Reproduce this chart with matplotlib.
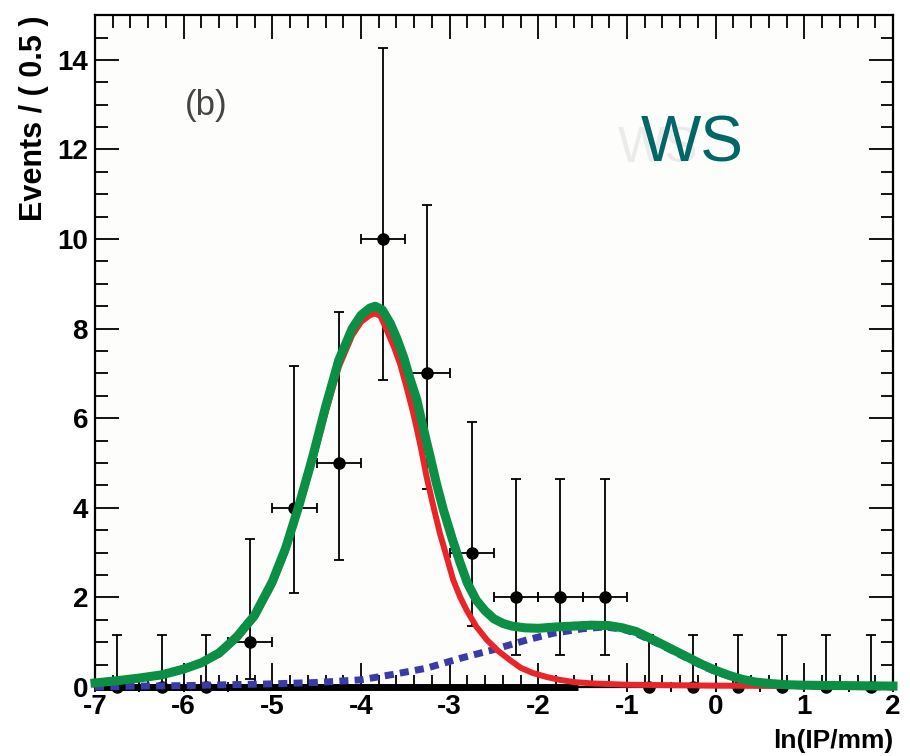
import numpy as np
import matplotlib
matplotlib.use("Agg")
import matplotlib.pyplot as plt
from matplotlib.ticker import MultipleLocator

plt.rcParams["axes.unicode_minus"] = False

## --- Data ---
# binned counts, bin width 0.5
bin_x = [-6.75, -6.25, -5.75, -5.25, -4.75, -4.25, -3.75, -3.25, -2.75,
         -2.25, -1.75, -1.25, -0.75, -0.25, 0.25, 0.75, 1.25, 1.75]
counts = [0, 0, 0, 1, 4, 5, 10, 7, 3, 2, 2, 2, 0, 0, 0, 0, 0, 0]
err_lo = [0, 0, 0, 0.83, 1.91, 2.16, 3.14, 2.58, 1.63, 1.29, 1.29, 1.29, 0, 0, 0, 0, 0, 0]
err_hi = [1.15, 1.15, 1.15, 2.30, 3.16, 3.38, 4.27, 3.77, 2.92, 2.64, 2.64, 2.64,
          1.15, 1.15, 1.15, 1.15, 1.15, 1.15]

# total fit (green)
tot_x = [-7.0, -6.75, -6.5, -6.25, -6.0, -5.8, -5.6, -5.4, -5.2, -5.0, -4.85, -4.7,
         -4.55, -4.4, -4.25, -4.1, -4.0, -3.9, -3.84, -3.76, -3.67, -3.6, -3.52, -3.45,
         -3.37, -3.3, -3.22, -3.15, -3.07, -2.97, -2.88, -2.8, -2.7, -2.6, -2.5, -2.4,
         -2.3, -2.15, -2.0, -1.8, -1.6, -1.4, -1.2, -1.05, -0.9, -0.75, -0.6, -0.45,
         -0.3, -0.15, 0.0, 0.15, 0.3, 0.45, 0.6, 0.8, 1.0, 1.5, 2.0]
tot_y = [0.09, 0.14, 0.2, 0.27, 0.4, 0.54, 0.76, 1.12, 1.6, 2.35, 3.1, 4.05,
         5.1, 6.25, 7.3, 8.0, 8.3, 8.46, 8.5, 8.42, 8.12, 7.8, 7.37, 6.9,
         6.41, 5.8, 5.14, 4.55, 3.95, 3.3, 2.76, 2.32, 1.94, 1.7, 1.52, 1.42,
         1.36, 1.32, 1.31, 1.34, 1.36, 1.38, 1.37, 1.32, 1.24, 1.1, 0.95, 0.8,
         0.65, 0.5, 0.37, 0.26, 0.17, 0.11, 0.08, 0.05, 0.04, 0.03, 0.02]

# signal component (red)
sig_x = [-7.0, -6.5, -6.0, -5.6, -5.4, -5.2, -5.0, -4.85, -4.7, -4.55, -4.4, -4.25,
         -4.1, -4.0, -3.9, -3.84, -3.78, -3.71, -3.63, -3.56, -3.48, -3.41, -3.33, -3.26,
         -3.18, -3.11, -3.03, -2.96, -2.88, -2.81, -2.7, -2.58, -2.45, -2.32, -2.2, -2.06,
         -1.9, -1.76, -1.6, -1.4, -1.0, 0.0, 1.0, 2.0]
sig_y = [0.08, 0.18, 0.37, 0.72, 1.08, 1.55, 2.28, 3.02, 3.98, 5.0, 6.12, 7.15,
         7.85, 8.15, 8.3, 8.34, 8.28, 7.97, 7.6, 7.22, 6.65, 6.11, 5.4, 4.69,
         4.0, 3.43, 2.88, 2.39, 2.0, 1.72, 1.35, 1.05, 0.8, 0.6, 0.43, 0.31,
         0.22, 0.16, 0.11, 0.08, 0.05, 0.03, 0.02, 0.02]

# background component (blue dashed)
bkg_x = [-7.0, -6.5, -6.0, -5.5, -5.0, -4.5, -4.0, -3.64, -3.26, -2.88, -2.51, -2.13,
         -1.83, -1.5, -1.25, -1.05, -0.9, -0.75, -0.6, -0.45, -0.3, -0.15, 0.0, 0.3,
         0.6, 1.0, 2.0]
bkg_y = [0.0, 0.02, 0.03, 0.05, 0.07, 0.1, 0.16, 0.28, 0.42, 0.64, 0.83, 1.05,
         1.2, 1.3, 1.34, 1.29, 1.2, 1.06, 0.92, 0.77, 0.62, 0.47, 0.34, 0.15,
         0.06, 0.02, 0.0]

# flat component along zero (black)
flat_x = [-7.0, -1.55]
flat_y = [0.0, 0.0]

## --- Plot ---
fig = plt.figure(figsize=(9.1, 7.56), dpi=100)
ax = fig.add_axes([0.1044, 0.0913, 0.8769, 0.8887])
ax.set_facecolor("#fdfdfb")

ax.errorbar(bin_x, counts, xerr=0.25, yerr=[err_lo, err_hi], fmt="o", color="black",
            ms=8, elinewidth=1.3, capsize=3.5, capthick=1.3, zorder=2, clip_on=False)

ax.plot(flat_x, flat_y, color="black", lw=5, solid_capstyle="butt", zorder=3, clip_on=False)
ax.plot(bkg_x, bkg_y, color="#3a3aa8", lw=5, ls=(0, (1.3, 0.9)), zorder=4, clip_on=False)
ax.plot(sig_x, sig_y, color="#e8262a", lw=4.3, zorder=5, solid_joinstyle="round",
        clip_on=False)
ax.plot(tot_x, tot_y, color="#0a8f45", lw=6.5, zorder=6, solid_joinstyle="round",
        clip_on=False)

ax.set_xlim(-7, 2)
ax.set_ylim(0, 15)
ax.xaxis.set_major_locator(MultipleLocator(1))
ax.xaxis.set_minor_locator(MultipleLocator(0.2))
ax.yaxis.set_major_locator(MultipleLocator(2))
ax.yaxis.set_minor_locator(MultipleLocator(0.5))
ax.tick_params(which="both", direction="in", top=True, right=True, color="black", width=1.3)
ax.tick_params(which="major", length=17, labelsize=20, pad=5)
ax.tick_params(which="minor", length=9)
for lab in ax.get_xticklabels() + ax.get_yticklabels():
    lab.set_fontweight("bold")
    lab.set_family("Liberation Sans")
for sp in ax.spines.values():
    sp.set_linewidth(1.6)

ax.set_xlabel("ln(IP/mm)", fontsize=19, fontweight="bold", family="Liberation Sans")
ax.xaxis.set_label_coords(1.0, -0.062)
ax.xaxis.label.set_horizontalalignment("right")
ax.set_ylabel("Events / ( 0.5 )", fontsize=22, fontweight="bold", family="Liberation Sans")
ax.yaxis.set_label_coords(-0.058, 1.0)
ax.yaxis.label.set_horizontalalignment("right")

ax.text(0.139, 0.865, "(b)", transform=ax.transAxes, fontsize=25, color="#444444",
        family="Liberation Sans", ha="center", va="center")
ax.text(0.705, 0.80, "WS", transform=ax.transAxes, fontsize=36, color="#ebebeb",
        family="Liberation Sans", ha="center", va="center", zorder=1)
ax.text(0.748, 0.807, "WS", transform=ax.transAxes, fontsize=46, color="#006666",
        family="Liberation Sans", ha="center", va="center", zorder=7)

fig.savefig("out.png", dpi=100)
